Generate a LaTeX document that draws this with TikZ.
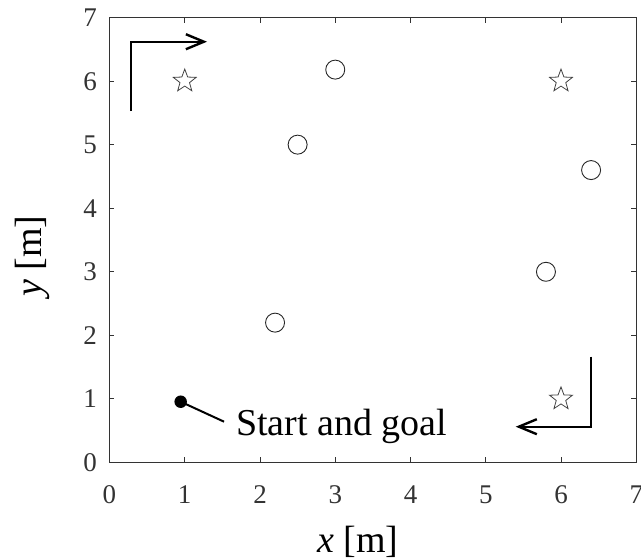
\documentclass[tikz,border=0pt]{standalone}
\usepackage{fontspec}
\setmainfont{Liberation Serif}
\usetikzlibrary{arrows.meta,shapes.geometric}
\definecolor{axisgray}{gray}{0.2}
\tikzset{
  frame/.style={draw=axisgray, line width=0.9pt},
  tick/.style={draw=axisgray, line width=0.9pt},
  ticklabel/.style={inner sep=0pt, text=axisgray, font=\fontsize{27}{27}\selectfont},
  axislabel/.style={inner sep=0pt, text=black, font=\fontsize{38}{38}\selectfont},
  obstacle/.style={circle, draw=black!85, line width=0.9pt, minimum size=19pt, inner sep=0pt},
  waypoint/.style={star, star points=5, star point ratio=2.4, draw=black!75, line width=0.8pt, minimum size=24pt, inner sep=0pt},
  startdot/.style={circle, fill=black, minimum size=12.5pt, inner sep=0pt},
  dirarrow/.style={draw=black, line width=2.4pt, -{Straight Barb[length=18pt, width=15pt, line width=2.4pt]}},
  leader/.style={draw=black, line width=2pt}
}
\begin{document}
\begin{tikzpicture}[x=75.25pt, y=63.57pt]
\useasboundingbox (-109.5pt,-97.5pt) rectangle (531.5pt,462.5pt);
% frame
\path[frame] (0,0) rectangle (7,7);
% ticks
\foreach \i in {1,...,6} {
  \draw[tick] (\i,0) -- ++(0,5pt);
  \draw[tick] (\i,7) -- ++(0,-5pt);
  \draw[tick] (0,\i) -- ++(5pt,0);
  \draw[tick] (7,\i) -- ++(-5pt,0);
}
% tick labels
\foreach \i in {0,...,7} {
  \node[ticklabel, anchor=base] (xl\i) at ([yshift=-41pt]\i,0) {\i};
  \node[ticklabel, anchor=base east] (yl\i) at ([xshift=-12.5pt, yshift=-9pt]0,\i) {\i};
}
% axis labels
\node[axislabel, anchor=base] (xlabel) at (3.302,-1.4236) {\textit{x} [m]};
\node[axislabel, anchor=base, rotate=90] (ylabel) at (-0.897,3.248) {\textit{y} [m]};
% obstacles
\node[obstacle] (o1) at (3.0,6.18) {};
\node[obstacle] (o2) at (2.5,5.0) {};
\node[obstacle] (o3) at (6.4,4.6) {};
\node[obstacle] (o4) at (5.8,3.0) {};
\node[obstacle] (o5) at (2.2,2.2) {};
% waypoints
\node[waypoint] (w1) at (1,6) {};
\node[waypoint] (w2) at (6,6) {};
\node[waypoint] (w3) at (6,1) {};
% start and goal
\node[startdot] (start) at (0.946,0.956) {};
\node[axislabel, anchor=base west] (sglabel) at (1.681,0.417) {Start and goal};
\coordinate (leadend) at (1.522,0.642);
\draw[leader] (start.center) -- (leadend);
% direction arrows
\coordinate (a1s) at (0.2857,5.529);
\coordinate (a1c) at (0.2857,6.619);
\coordinate (a1e) at (1.2957,6.619);
\draw[dirarrow] (a1s) -- (a1c) -- (a1e);
\coordinate (a2s) at (6.4,1.664);
\coordinate (a2c) at (6.4,0.563);
\coordinate (a2e) at (5.398,0.563);
\draw[dirarrow] (a2s) -- (a2c) -- (a2e);
\end{tikzpicture}
\end{document}
